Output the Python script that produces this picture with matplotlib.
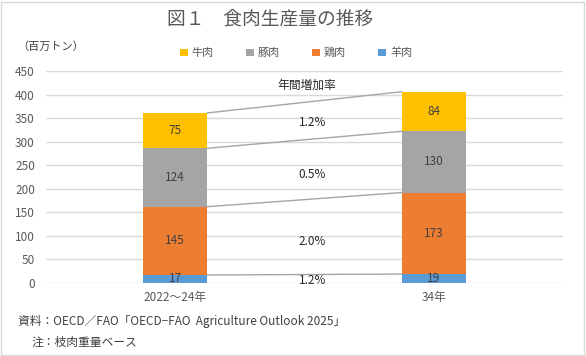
import matplotlib
matplotlib.use("Agg")
import matplotlib.pyplot as plt
from matplotlib.patches import Rectangle
import numpy as np

plt.rcParams['font.family'] = ['Noto Sans CJK JP', 'DejaVu Sans']

categories = ["2022～24年", "34年"]
series_names = ["羊肉", "鶏肉", "豚肉", "牛肉"]
mutton = [17, 19]
chicken = [145, 173]
pork = [124, 130]
beef = [75, 84]
colors = ["#5B9BD5", "#ED7D31", "#A5A5A5", "#FFC000"]
growth_labels = ["1.2%", "2.0%", "0.5%", "1.2%"]
growth_y = [6, 89, 231, 340]
yticks = [0, 50, 100, 150, 200, 250, 300, 350, 400, 450]

fig = plt.figure(figsize=(5.86, 3.56), dpi=100)
ax = fig.add_axes([46/586, 1-283/356, (563-46)/586, (283-71)/356])

x = np.arange(len(categories))
w = 0.248
series = [mutton, chicken, pork, beef]
bottom = np.zeros(len(categories))
bars = []
tops = []
for name, vals, c in zip(series_names, series, colors):
    vals = np.array(vals, dtype=float)
    b = ax.bar(x, vals, w, bottom=bottom, color=c, label=name, zorder=3)
    bars.append(b)
    for xi, v, bt in zip(x, vals, bottom):
        ax.text(xi, bt + v/2, f"{int(v)}", ha="center", va="center",
                fontsize=8.5, color="#404040", zorder=4)
    bottom = bottom + vals
    tops.append(bottom.copy())

for t in tops:
    ax.plot([x[0] + w/2, x[1] - w/2], [t[0], t[1]], color="#A5A5A5", lw=1, zorder=2)

for lab, gy in zip(growth_labels, growth_y):
    ax.text(0.53, gy, lab, ha="center", va="center", fontsize=8.5, color="#262626", zorder=5)
ax.text(0.51, 420, "年間増加率", ha="center", va="center", fontsize=8.5, color="#262626")

ax.set_ylim(0, 450)
ax.set_xlim(-0.5, 1.5)
ax.set_yticks(yticks)
ax.set_xticks(x)
ax.set_xticklabels(categories)
ax.tick_params(axis="both", length=0, labelsize=8.5, colors="#595959")
ax.tick_params(axis="y", pad=8)
ax.tick_params(axis="x", pad=6)
ax.yaxis.grid(True, color="#D9D9D9", lw=1, zorder=0)
ax.set_axisbelow(True)
for s in ax.spines.values():
    s.set_visible(False)

fig.text(270/586, 1-19/356, "図１　食肉生産量の推移", ha="center", va="center",
         fontsize=13.5, color="#595959")
fig.text(17/586, 1-47/356, "（百万トン）", ha="left", va="center", fontsize=8, color="#404040")

handles = [bars[3], bars[2], bars[1], bars[0]]
labels = ["牛肉", "豚肉", "鶏肉", "羊肉"]
fig.legend(handles, labels, loc="center", bbox_to_anchor=(296/586, 1-53/356), ncol=4,
           frameon=False, fontsize=8, handlelength=0.7, handleheight=0.7,
           handletextpad=0.35, columnspacing=2.9, labelcolor="#595959")

fig.text(18/586, 1-321/356, "資料：OECD／FAO「OECD−FAO  Agriculture Outlook 2025」",
         ha="left", va="center", fontsize=8.5, color="#404040")
fig.text(32/586, 1-342/356, "注：枝肉重量ベース", ha="left", va="center",
         fontsize=8.5, color="#404040")

fig.patches.append(Rectangle((1/586, 1/356), 1-3/586, 1-3/356, transform=fig.transFigure,
                             fill=False, edgecolor="#D9D9D9", lw=1))

fig.savefig("out.png", dpi=100)
